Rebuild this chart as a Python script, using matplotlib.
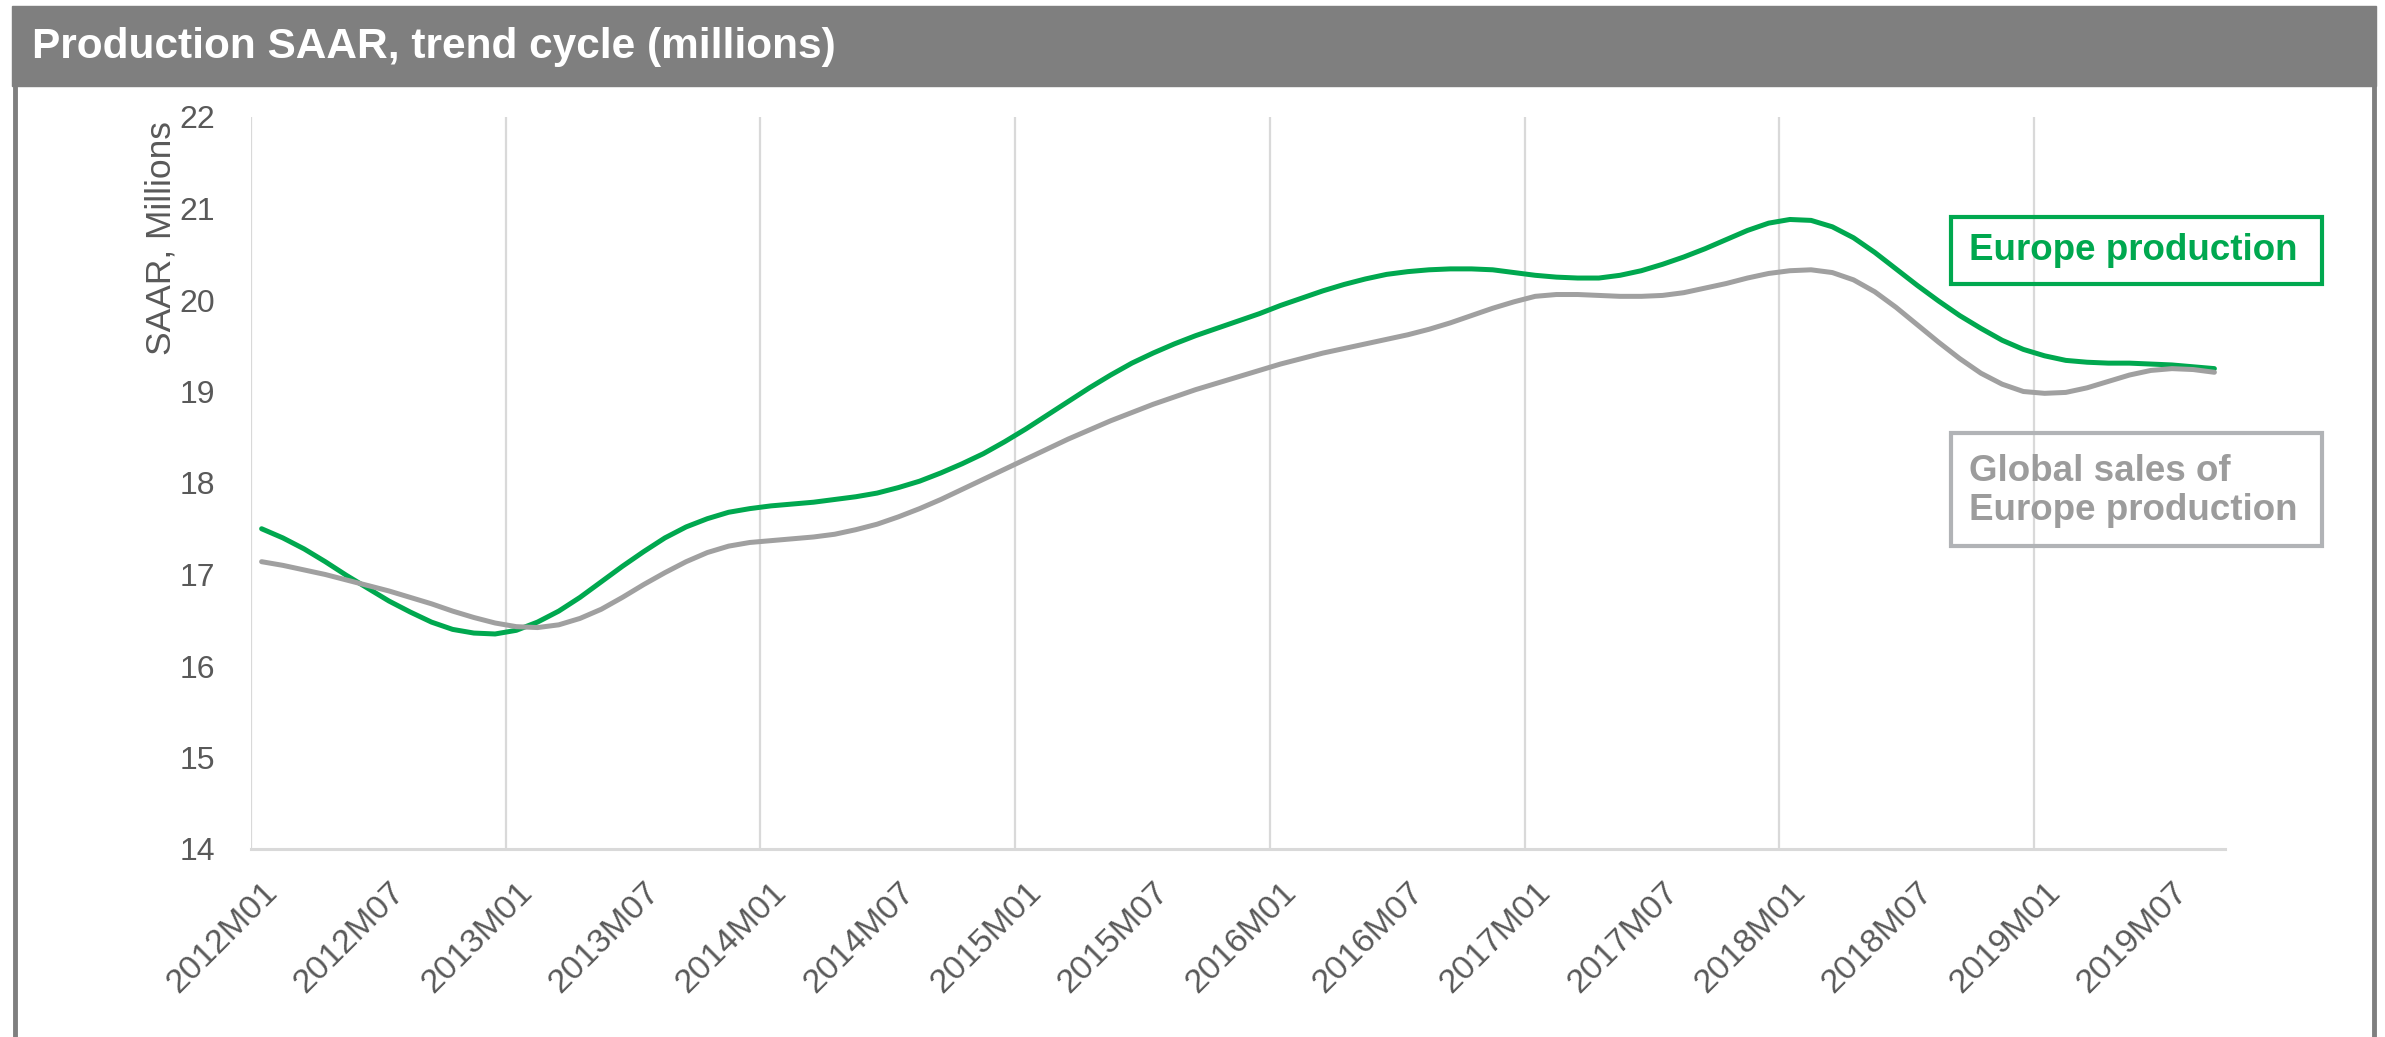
import matplotlib.pyplot as plt
import matplotlib.patches as mpatches
import numpy as np

plt.rcParams['font.family'] = ['Liberation Sans', 'DejaVu Sans']

# === Data (monthly, 2012M01 .. 2019M09) ===
europe_production = [
    17.50, 17.40, 17.28, 17.14, 16.99, 16.85, 16.71, 16.59, 16.48, 16.40, 16.36, 16.35,
    16.39, 16.48, 16.60, 16.75, 16.92, 17.09, 17.25, 17.40, 17.52, 17.61, 17.68, 17.72,
    17.75, 17.77, 17.79, 17.82, 17.85, 17.89, 17.95, 18.02, 18.11, 18.21, 18.32, 18.45,
    18.59, 18.74, 18.89, 19.04, 19.18, 19.31, 19.42, 19.52, 19.61, 19.69, 19.77, 19.85,
    19.94, 20.02, 20.10, 20.17, 20.23, 20.28, 20.31, 20.33, 20.34, 20.34, 20.33, 20.30,
    20.27, 20.25, 20.24, 20.24, 20.27, 20.32, 20.39, 20.47, 20.56, 20.66, 20.76, 20.84,
    20.88, 20.87, 20.80, 20.68, 20.52, 20.34, 20.16, 19.99, 19.83, 19.69, 19.56, 19.46,
    19.39, 19.34, 19.32, 19.31, 19.31, 19.30, 19.29, 19.27, 19.25,
]
global_sales = [
    17.14, 17.10, 17.05, 17.00, 16.94, 16.88, 16.82, 16.75, 16.68, 16.60, 16.53, 16.47,
    16.43, 16.42, 16.45, 16.52, 16.62, 16.75, 16.89, 17.02, 17.14, 17.24, 17.31, 17.35,
    17.37, 17.39, 17.41, 17.44, 17.49, 17.55, 17.63, 17.72, 17.82, 17.93, 18.04, 18.15,
    18.26, 18.37, 18.48, 18.58, 18.68, 18.77, 18.86, 18.94, 19.02, 19.09, 19.16, 19.23,
    19.30, 19.36, 19.42, 19.47, 19.52, 19.57, 19.62, 19.68, 19.75, 19.83, 19.91, 19.98,
    20.04, 20.06, 20.06, 20.05, 20.04, 20.04, 20.05, 20.08, 20.13, 20.18, 20.24, 20.29,
    20.32, 20.33, 20.30, 20.22, 20.09, 19.92, 19.73, 19.54, 19.36, 19.20, 19.08, 19.00,
    18.98, 18.99, 19.04, 19.11, 19.18, 19.23, 19.25, 19.24, 19.21,
]
tick_labels = ["2012M01", "2012M07", "2013M01", "2013M07", "2014M01", "2014M07",
               "2015M01", "2015M07", "2016M01", "2016M07", "2017M01", "2017M07",
               "2018M01", "2018M07", "2019M01", "2019M07"]
y_ticks = [14, 15, 16, 17, 18, 19, 20, 21, 22]

GREEN = '#00A84F'
GREY_LINE = '#A0A0A0'
TXT = '#595959'
W, H = 2385, 1037

fig = plt.figure(figsize=(W / 100, H / 100), dpi=100)

def fx(px):
    return px / W

def fy(py):
    return 1 - py / H

# === Title bar and frame ===
fig.patches.append(mpatches.Rectangle((fx(12), fy(86)), fx(2376 - 12), (86 - 6) / H,
                                      transform=fig.transFigure, color='#7F7F7F', zorder=0))
fig.add_artist(plt.Line2D([fx(15), fx(15)], [0, fy(86)], color='#7F7F7F', lw=3.5))
fig.add_artist(plt.Line2D([fx(2374), fx(2374)], [0, fy(86)], color='#7F7F7F', lw=3.5))
fig.text(fx(32), fy(47), "Production SAAR, trend cycle (millions)", color='white',
         fontsize=30.5, fontweight='bold', va='center', ha='left')

# === Chart ===
ax = fig.add_axes([fx(251), fy(849), fx(2225 - 251), (849 - 117) / H])
x = np.arange(len(europe_production))
ax.plot(x, europe_production, color=GREEN, lw=3.6, solid_capstyle='round', zorder=3)
ax.plot(x, global_sales, color=GREY_LINE, lw=3.6, solid_capstyle='round', zorder=4)

ax.set_xlim(-0.5, len(x) - 0.5)
ax.set_ylim(14, 22)
ax.set_yticks(y_ticks)
ax.set_xticks(np.arange(0, len(x), 6))
ax.set_xticklabels(tick_labels, rotation=45, ha='right', rotation_mode='anchor')
ax.tick_params(axis='x', length=0, pad=20, labelsize=24.5, labelcolor=TXT)
ax.tick_params(axis='y', length=0, pad=26, labelsize=23, labelcolor=TXT)

# vertical gridlines at year boundaries
for g in np.arange(-0.5, len(x), 12):
    ax.axvline(g, color='#D9D9D9', lw=1.6, zorder=1)

for s in ['top', 'right', 'left']:
    ax.spines[s].set_visible(False)
ax.spines['bottom'].set_color('#D9D9D9')
ax.spines['bottom'].set_linewidth(2.2)

fig.text(fx(161), fy(238), "SAAR, Millions", rotation=90, fontsize=25.5, color=TXT,
         ha='center', va='center')

# === Labels in boxes ===
fig.patches.append(mpatches.Rectangle((fx(1951), fy(284)), fx(2322 - 1951), (284 - 217) / H,
                                      transform=fig.transFigure, fill=False,
                                      edgecolor=GREEN, lw=3))
fig.text(fx(1969), fy(251), "Europe production", color=GREEN, fontsize=26.5,
         fontweight='bold', ha='left', va='center')

fig.patches.append(mpatches.Rectangle((fx(1951), fy(546)), fx(2322 - 1951), (546 - 433) / H,
                                      transform=fig.transFigure, fill=False,
                                      edgecolor='#B1B3B6', lw=3))
fig.text(fx(1969), fy(491), "Global sales of\nEurope production", color='#9C9C9C',
         fontsize=26.5, fontweight='bold', ha='left', va='center', linespacing=1.17)

fig.savefig('out.png', dpi=100)
